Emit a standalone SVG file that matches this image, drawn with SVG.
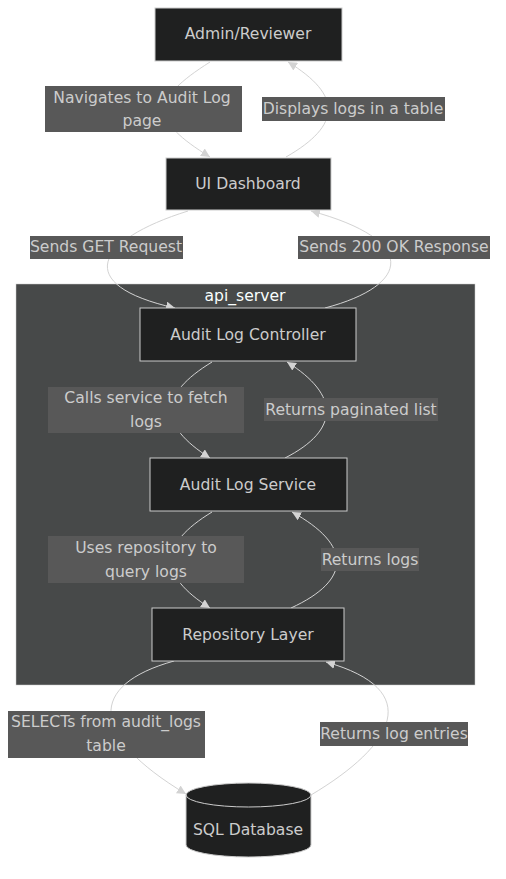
<svg xmlns="http://www.w3.org/2000/svg" width="506" height="879" viewBox="0 0 506 879">
<style>
.node{fill:#1f2020;stroke:#cccccc;stroke-width:1}
.t{font-family:"DejaVu Sans",sans-serif;font-size:15.6px;fill:#cccccc;text-anchor:middle;dominant-baseline:central}
.lbl{fill:#585858}
.edge{fill:none;stroke:#d3d3d3;stroke-width:1}
.cluster{fill:#474949;stroke:#cccccc;stroke-width:0.5}
.ct{font-family:"DejaVu Sans",sans-serif;font-size:15.6px;fill:#f9fffe;text-anchor:middle;dominant-baseline:central}
</style>
<defs>
<marker id="arr" viewBox="0 0 10 10" refX="10" refY="5" markerWidth="9" markerHeight="9" markerUnits="userSpaceOnUse" orient="auto">
<path d="M0,0 L10,5 L0,10 z" fill="#d3d3d3"/>
</marker>
</defs>
<rect width="506" height="879" fill="#ffffff"/>
<g id="api_server">
<rect class="cluster" x="16" y="284" width="459" height="401"/>
<text class="ct" x="245" y="295.5">api_server</text>
</g>
<g id="connectors">
<path class="edge" d="M210,62 C150,100 150,120 210,157" marker-end="url(#arr)"/>
<path class="edge" d="M286,157 C342,125 342,95 288,62" marker-end="url(#arr)"/>
<path class="edge" d="M188,211 C95,240 72,285 175,308" marker-end="url(#arr)"/>
<path class="edge" d="M325,308 C412,285 418,240 311,211" marker-end="url(#arr)"/>
<path class="edge" d="M212,362 C158,395 158,425 210,458" marker-end="url(#arr)"/>
<path class="edge" d="M285,458 C340,430 340,395 287,362" marker-end="url(#arr)"/>
<path class="edge" d="M212,512 C158,545 158,575 210,608" marker-end="url(#arr)"/>
<path class="edge" d="M291,608 C352,580 352,545 292,512" marker-end="url(#arr)"/>
<path class="edge" d="M174,661 C88,685 88,735 186,794" marker-end="url(#arr)"/>
<path class="edge" d="M311,795 C395,745 425,690 326,662" marker-end="url(#arr)"/>
</g>
<g id="edge-labels">
<rect class="lbl" x="45" y="86" width="197" height="46"/>
<text class="t" x="142" y="97.5">Navigates to Audit Log</text>
<text class="t" x="142" y="120.5">page</text>
<rect class="lbl" x="262" y="97" width="183" height="24"/>
<text class="t" x="353" y="108.5">Displays logs in a table</text>
<rect class="lbl" x="30" y="236" width="153" height="23"/>
<text class="t" x="106" y="246.5">Sends GET Request</text>
<rect class="lbl" x="298" y="236" width="192" height="23"/>
<text class="t" x="394" y="246.5">Sends 200 OK Response</text>
<rect class="lbl" x="48" y="387" width="196" height="46"/>
<text class="t" x="146" y="397.5">Calls service to fetch</text>
<text class="t" x="146" y="421.5">logs</text>
<rect class="lbl" x="264" y="398" width="174" height="23"/>
<text class="t" x="351" y="409.5">Returns paginated list</text>
<rect class="lbl" x="48" y="536" width="196" height="47"/>
<text class="t" x="146" y="547.5">Uses repository to</text>
<text class="t" x="146" y="571.5">query logs</text>
<rect class="lbl" x="321" y="548" width="98" height="23"/>
<text class="t" x="370" y="559.5">Returns logs</text>
<rect class="lbl" x="8" y="711" width="197" height="47"/>
<text class="t" x="106" y="721.5">SELECTs from audit_logs</text>
<text class="t" x="106" y="745.5">table</text>
<rect class="lbl" x="320" y="722" width="148" height="24"/>
<text class="t" x="394" y="733.5">Returns log entries</text>
</g>
<g id="admin">
<rect class="node" x="155" y="8" width="187" height="53"/>
<text class="t" x="248" y="33.5">Admin/Reviewer</text>
</g>
<g id="ui">
<rect class="node" x="166" y="158" width="165" height="52"/>
<text class="t" x="248" y="183.5">UI Dashboard</text>
</g>
<g id="controller">
<rect class="node" x="140" y="308" width="216" height="53"/>
<text class="t" x="248" y="334.5">Audit Log Controller</text>
</g>
<g id="service">
<rect class="node" x="150" y="458" width="197" height="53"/>
<text class="t" x="248" y="484.5">Audit Log Service</text>
</g>
<g id="repository">
<rect class="node" x="152" y="608" width="192" height="53"/>
<text class="t" x="248" y="634.5">Repository Layer</text>
</g>
<g id="database">
<path class="node" d="M186,795 a62.5,12 0 0 0 125,0 a62.5,12 0 0 0 -125,0 l0,50 a62.5,12 0 0 0 125,0 l0,-50"/>
<text class="t" x="248" y="830">SQL Database</text>
</g>
</svg>
